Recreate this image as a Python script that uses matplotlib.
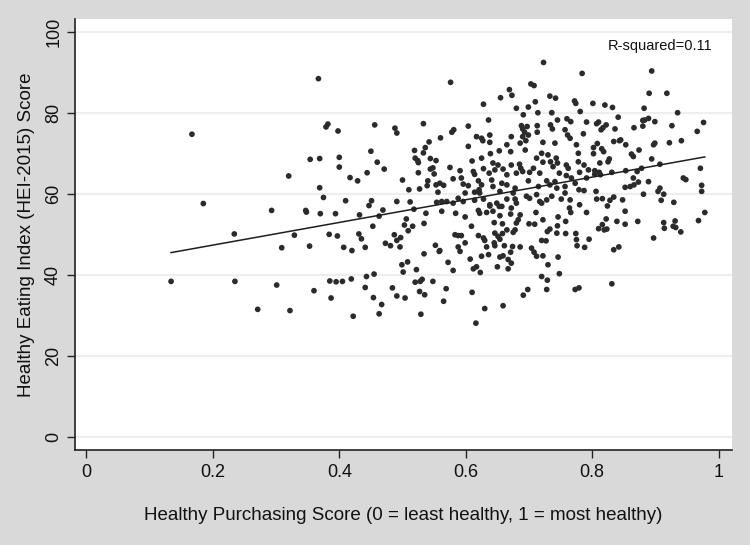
import matplotlib
matplotlib.use("Agg")
import matplotlib.pyplot as plt
import numpy as np

plt.rcParams['font.family'] = ['Liberation Sans', 'DejaVu Sans']

# ---- data ----
# left / lower-middle region (x < 0.56)
x_left = [0.134, 0.167, 0.185, 0.234, 0.235, 0.271, 0.293, 0.301, 0.309, 0.320,
          0.322, 0.329, 0.347, 0.348, 0.353, 0.354, 0.360, 0.367, 0.369, 0.369,
          0.370, 0.375, 0.379, 0.382, 0.384, 0.385, 0.387, 0.394, 0.395, 0.397,
          0.398, 0.400, 0.400, 0.405, 0.407, 0.410, 0.417, 0.419, 0.420, 0.422,
          0.429, 0.431, 0.432, 0.435, 0.441, 0.441, 0.443, 0.444, 0.447, 0.450,
          0.451, 0.453, 0.454, 0.455, 0.456, 0.460, 0.463, 0.463, 0.467, 0.469,
          0.471, 0.473, 0.481, 0.484, 0.487, 0.488, 0.491, 0.491, 0.491, 0.491,
          0.496, 0.497, 0.499, 0.500, 0.501, 0.503, 0.504, 0.506, 0.508, 0.509,
          0.510, 0.512, 0.516, 0.518, 0.519, 0.520, 0.520, 0.522, 0.524, 0.525,
          0.525, 0.527, 0.527, 0.528, 0.529, 0.531, 0.533, 0.533, 0.534, 0.534,
          0.535, 0.536, 0.537, 0.539, 0.540, 0.542, 0.544, 0.544, 0.548, 0.550,
          0.548, 0.552, 0.553, 0.553, 0.554, 0.556, 0.558]
y_left = [38.4, 74.7, 57.6, 50.1, 38.4, 31.5, 55.9, 37.5, 46.7, 64.4,
          31.2, 49.8, 55.9, 55.5, 47.1, 68.5, 36.1, 88.4, 68.7, 61.5,
          55.1, 59.1, 76.5, 77.2, 50.0, 38.5, 34.3, 55.1, 38.3, 49.6,
          75.5, 69.0, 66.6, 38.4, 46.8, 58.3, 64.0, 39.0, 46.0, 29.8,
          63.2, 50.1, 54.8, 48.9, 36.9, 46.8, 39.6, 65.2, 57.1, 70.5,
          58.3, 52.0, 34.4, 40.2, 77.0, 67.8, 54.5, 30.4, 32.7, 56.0,
          66.1, 47.8, 47.2, 36.8, 49.9, 76.2, 75.0, 48.5, 58.1, 34.8,
          46.9, 49.2, 42.5, 63.4, 40.7, 52.3, 34.3, 53.8, 43.2, 50.9,
          61.0, 58.0, 52.0, 56.2, 70.7, 68.8, 38.2, 41.3, 68.2, 67.7,
          65.2, 61.2, 35.9, 38.4, 30.3, 38.9, 77.3, 70.1, 52.7, 45.2,
          35.1, 71.4, 55.2, 62.0, 63.2, 72.8, 66.1, 68.7, 66.4, 64.9,
          38.4, 47.3, 62.2, 68.2, 57.9, 60.4, 45.8]

# central region, upper half (0.56 <= x <= 0.80, y >= 60)
x_mid_hi = [0.723, 0.576, 0.784, 0.703, 0.708, 0.669, 0.673, 0.655, 0.628, 0.733,
            0.742, 0.772, 0.774, 0.680, 0.699, 0.710, 0.781, 0.636, 0.691, 0.714,
            0.736, 0.760, 0.766, 0.791, 0.745, 0.578, 0.581, 0.604, 0.560, 0.713,
            0.713, 0.734, 0.737, 0.757, 0.761, 0.765, 0.786, 0.688, 0.690, 0.693,
            0.697, 0.699, 0.690,
            0.617, 0.625, 0.627, 0.638, 0.638, 0.672, 0.686, 0.695, 0.694, 0.604,
            0.665, 0.671, 0.722, 0.741, 0.775, 0.778, 0.639, 0.653, 0.625, 0.610,
            0.712, 0.720, 0.730, 0.734, 0.722, 0.743, 0.745, 0.738, 0.759, 0.762,
            0.778, 0.787, 0.575, 0.591, 0.612, 0.614, 0.628, 0.637, 0.646, 0.643,
            0.651, 0.659, 0.665, 0.672, 0.685, 0.687, 0.680, 0.690, 0.701, 0.707,
            0.717, 0.728, 0.741, 0.748, 0.759, 0.767, 0.780, 0.791, 0.559, 0.565,
            0.580, 0.593, 0.596, 0.604, 0.620, 0.625, 0.621, 0.641, 0.643, 0.657,
            0.665, 0.678, 0.699, 0.715, 0.733, 0.744, 0.757, 0.773, 0.779, 0.599,
            0.614, 0.622, 0.654, 0.675]
y_mid_hi = [92.4, 87.5, 89.7, 87.1, 86.7, 85.7, 84.3, 83.7, 82.1, 84.1,
            83.6, 82.9, 82.3, 81.1, 81.4, 82.7, 80.3, 78.2, 79.5, 80.0,
            80.0, 78.5, 77.8, 77.7, 78.2, 75.2, 75.8, 76.7, 73.8, 76.8,
            75.2, 77.0, 76.0, 75.8, 74.5, 73.7, 74.8, 76.8, 76.0, 75.2,
            76.6, 74.5, 74.1,
            74.1, 73.7, 73.1, 74.5, 72.7, 74.1, 72.5, 73.1, 70.8, 71.7,
            72.1, 70.4, 72.7, 72.5, 72.1, 70.0, 69.9, 70.6, 68.8, 68.1,
            68.8, 70.0, 69.6, 67.9, 67.8, 68.8, 67.6, 66.7, 67.1, 66.3,
            67.9, 67.1, 66.5, 65.7, 65.5, 64.8, 66.2, 65.1, 65.9, 67.6,
            67.1, 66.1, 64.7, 67.1, 67.3, 66.3, 65.1, 65.5, 65.3, 66.3,
            65.1, 63.2, 63.0, 65.1, 64.5, 63.9, 65.3, 63.9, 62.6, 62.1,
            63.7, 63.9, 62.4, 62.0, 63.2, 62.2, 61.0, 63.4, 61.8, 62.6,
            62.2, 61.4, 63.2, 61.8, 62.2, 61.4, 61.8, 62.6, 61.0, 60.2,
            60.4, 60.2, 60.6, 60.2]

# central region, lower half (0.56 <= x <= 0.80, y < 61)
x_mid_lo = [0.757, 0.787, 0.562, 0.570, 0.580, 0.588, 0.596, 0.614, 0.628, 0.638,
            0.649, 0.653, 0.665, 0.678, 0.680, 0.696, 0.701, 0.712, 0.717, 0.720,
            0.728, 0.736, 0.751, 0.765, 0.780, 0.562, 0.584, 0.599, 0.609, 0.620,
            0.622, 0.633, 0.638, 0.643, 0.654, 0.657, 0.671, 0.672, 0.686, 0.683,
            0.680, 0.711, 0.722, 0.746, 0.758, 0.764, 0.766, 0.791, 0.645, 0.658,
            0.678, 0.700, 0.709, 0.733, 0.745, 0.729, 0.583, 0.588, 0.593, 0.599,
            0.620, 0.628, 0.630, 0.646, 0.651, 0.654, 0.658, 0.665, 0.675, 0.645,
            0.646, 0.661, 0.674, 0.686, 0.704, 0.708, 0.720, 0.727, 0.744, 0.758,
            0.774, 0.775, 0.776, 0.788, 0.795, 0.559, 0.588, 0.591, 0.633, 0.572,
            0.580, 0.607, 0.612, 0.617, 0.623, 0.625, 0.636, 0.654, 0.659, 0.667,
            0.672, 0.650, 0.667, 0.671, 0.712, 0.722, 0.730, 0.746, 0.720, 0.729,
            0.748, 0.569, 0.565, 0.610, 0.630, 0.659, 0.616, 0.691, 0.698, 0.728,
            0.773, 0.779]
y_mid_lo = [60.2, 60.8, 58.1, 58.1, 57.7, 58.9, 58.1, 58.4, 58.7, 57.3,
            57.7, 56.9, 58.7, 58.7, 57.7, 59.4, 58.9, 59.8, 58.1, 57.7,
            58.5, 59.4, 58.7, 58.5, 57.3, 55.7, 55.2, 54.3, 52.0, 55.9,
            55.2, 55.4, 57.0, 55.7, 54.6, 56.9, 55.0, 56.5, 54.8, 53.6,
            52.8, 55.4, 53.6, 54.3, 53.2, 56.5, 55.4, 55.4, 52.9, 52.6,
            51.1, 52.6, 52.5, 51.3, 52.1, 50.7, 49.9, 49.7, 49.7, 47.9,
            49.7, 49.1, 48.5, 50.3, 49.5, 48.8, 50.2, 51.1, 50.5, 47.9,
            47.2, 47.2, 47.0, 46.9, 46.6, 45.6, 48.5, 48.4, 50.3, 50.2,
            50.2, 48.7, 47.2, 46.8, 48.8, 46.0, 46.9, 45.8, 46.9, 43.1,
            41.1, 43.9, 41.5, 42.0, 40.6, 44.6, 45.0, 44.4, 44.7, 43.8,
            42.9, 42.0, 41.5, 45.6, 44.6, 44.7, 42.5, 44.4, 39.6, 38.7,
            40.3, 36.6, 33.5, 35.7, 31.7, 32.4, 28.1, 35.0, 36.4, 36.4,
            36.4, 36.8]

# right region (x > 0.79)
x_right = [0.894, 0.890, 0.918, 0.801, 0.820, 0.832, 0.882, 0.935, 0.841, 0.807,
           0.810, 0.817, 0.822, 0.814, 0.836, 0.866, 0.880, 0.883, 0.889, 0.880,
           0.899, 0.926, 0.966, 0.976, 0.834, 0.843, 0.845, 0.853, 0.897, 0.899,
           0.922, 0.941, 0.802, 0.808, 0.815, 0.818, 0.802, 0.862, 0.865, 0.874,
           0.827, 0.825, 0.812, 0.894, 0.907, 0.794, 0.804, 0.811, 0.813, 0.804,
           0.831, 0.853, 0.871, 0.878, 0.971, 0.865, 0.873, 0.866, 0.889, 0.852,
           0.860, 0.907, 0.904, 0.944, 0.948, 0.973, 0.973, 0.806, 0.881, 0.913,
           0.807, 0.816, 0.828, 0.834, 0.848, 0.909, 0.929, 0.824, 0.852, 0.978,
           0.822, 0.816, 0.810, 0.819, 0.823, 0.839, 0.852, 0.872, 0.913, 0.914,
           0.931, 0.928, 0.932, 0.940, 0.968, 0.897, 0.834, 0.842, 0.831]
y_right = [90.3, 84.8, 84.8, 82.3, 81.9, 81.3, 81.1, 80.0, 78.9, 77.3,
           77.7, 76.3, 77.0, 75.8, 76.0, 76.3, 76.7, 78.2, 78.6, 78.1,
           77.8, 76.8, 75.4, 77.6, 72.9, 73.1, 73.3, 72.1, 72.1, 72.5,
           72.6, 73.1, 71.4, 72.4, 71.1, 70.4, 69.9, 69.8, 69.2, 70.8,
           68.6, 67.9, 67.6, 68.6, 67.3, 65.9, 65.7, 65.3, 64.7, 64.8,
           65.3, 65.7, 65.5, 66.3, 66.3, 63.9, 62.9, 62.2, 63.0, 61.6,
           61.8, 61.4, 60.6, 63.9, 63.5, 62.1, 60.6, 60.6, 59.9, 59.9,
           58.7, 58.8, 58.4, 59.2, 58.5, 58.4, 57.9, 57.0, 55.7, 55.4,
           53.8, 52.4, 51.4, 51.1, 51.3, 53.2, 52.5, 53.2, 52.9, 51.5,
           53.3, 52.0, 51.7, 50.6, 53.4, 49.1, 46.2, 46.9, 37.8]

# fitted line end points
fit_x = [0.134, 0.978]
fit_y = [45.5, 69.1]
r2_text = "R-squared=0.11"

xticks = [0, 0.2, 0.4, 0.6, 0.8, 1]
xtick_labels = ["0", "0.2", "0.4", "0.6", "0.8", "1"]
yticks = [0, 20, 40, 60, 80, 100]

x_all = x_left + x_mid_hi + x_mid_lo + x_right
y_all = y_left + y_mid_hi + y_mid_lo + y_right

# ---- figure ----
fig = plt.figure(figsize=(7.5, 5.45), dpi=100)
fig.patch.set_facecolor('#d9d9d9')
ax = fig.add_axes([0.0995, 0.1735, 0.8765, 0.7915])
ax.set_facecolor('white')

ax.set_xlim(-0.0185, 1.021)
ax.set_ylim(-3.3, 103.1)

for yv in yticks:
    ax.axhline(yv, color='#eeeeee', lw=1.6, zorder=0)

ax.scatter(x_all, y_all, s=17, color='#2b2b2b', edgecolors='none', zorder=3)
ax.plot(fit_x, fit_y, color='#1e1e1e', lw=1.1, zorder=4)

ax.text(0.990, 96.4, r2_text, ha='right', va='center', fontsize=10.5, color='#111111')

ax.set_xticks(xticks)
ax.set_xticklabels(xtick_labels)
ax.set_yticks(yticks)
ax.set_yticklabels([str(v) for v in yticks], rotation=90, va='center')

ax.tick_params(axis='both', direction='out', length=5.5, width=1.0, color='#222222',
               labelsize=13, labelcolor='#111111')
ax.tick_params(axis='x', pad=4)
ax.tick_params(axis='y', pad=3.5)

for side in ['top', 'right']:
    ax.spines[side].set_visible(False)
for side in ['left', 'bottom']:
    ax.spines[side].set_color('#222222')
    ax.spines[side].set_linewidth(1.2)

ax.set_xlabel("Healthy Purchasing Score (0 = least healthy, 1 = most healthy)",
              fontsize=13.5, color='#111111', labelpad=19)
ax.set_ylabel("Healthy Eating Index (HEI-2015) Score", fontsize=13.5,
              color='#111111', labelpad=7)

fig.savefig("out.png", dpi=100, facecolor=fig.get_facecolor())
